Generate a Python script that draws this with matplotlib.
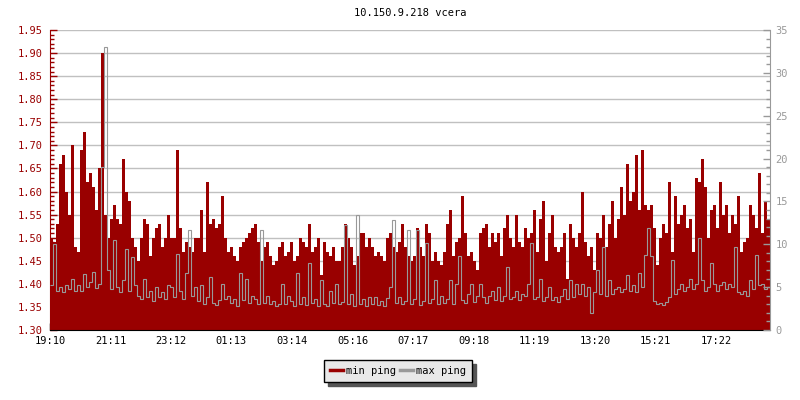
import numpy as np
import matplotlib
matplotlib.use("Agg")
import matplotlib.pyplot as plt
from matplotlib.ticker import MultipleLocator, FixedLocator, FixedFormatter

title = "10.150.9.218 vcera"
series_names = ["min ping", "max ping"]

# one sample every 6 minutes, starting 19:10 (240 samples = 24 h)
step_minutes = 6

min_ping = [
    1.50, 1.49, 1.53, 1.66, 1.68, 1.60, 1.55, 1.70, 1.48, 1.47, 1.69, 1.73, 1.62, 1.64, 1.61, 1.56, 1.65, 1.90, 1.55, 1.50,
    1.54, 1.57, 1.54, 1.53, 1.67, 1.60, 1.58, 1.50, 1.48, 1.45, 1.50, 1.54, 1.53, 1.46, 1.50, 1.52, 1.53, 1.48, 1.50, 1.55,
    1.50, 1.50, 1.69, 1.52, 1.47, 1.49, 1.48, 1.47, 1.50, 1.50, 1.56, 1.47, 1.62, 1.53, 1.54, 1.52, 1.53, 1.59, 1.50, 1.47,
    1.48, 1.46, 1.45, 1.48, 1.49, 1.50, 1.51, 1.52, 1.53, 1.49, 1.45, 1.48, 1.49, 1.46, 1.44, 1.45, 1.48, 1.49, 1.46, 1.47,
    1.49, 1.45, 1.46, 1.50, 1.49, 1.48, 1.53, 1.47, 1.48, 1.50, 1.42, 1.49, 1.47, 1.46, 1.48, 1.45, 1.45, 1.48, 1.53, 1.50,
    1.48, 1.44, 1.46, 1.51, 1.51, 1.48, 1.50, 1.48, 1.46, 1.47, 1.46, 1.45, 1.50, 1.51, 1.48, 1.47, 1.49, 1.53, 1.48, 1.46,
    1.45, 1.46, 1.52, 1.48, 1.46, 1.53, 1.51, 1.45, 1.47, 1.45, 1.44, 1.47, 1.53, 1.56, 1.46, 1.49, 1.50, 1.59, 1.51, 1.46,
    1.47, 1.45, 1.43, 1.51, 1.52, 1.53, 1.48, 1.51, 1.49, 1.51, 1.46, 1.52, 1.55, 1.50, 1.48, 1.55, 1.49, 1.48, 1.52, 1.50,
    1.51, 1.56, 1.47, 1.54, 1.58, 1.45, 1.51, 1.55, 1.48, 1.47, 1.48, 1.51, 1.41, 1.53, 1.50, 1.48, 1.51, 1.60, 1.49, 1.46,
    1.48, 1.43, 1.51, 1.50, 1.55, 1.48, 1.53, 1.58, 1.50, 1.54, 1.61, 1.55, 1.66, 1.58, 1.60, 1.68, 1.56, 1.69, 1.57, 1.56,
    1.57, 1.52, 1.44, 1.50, 1.53, 1.51, 1.62, 1.47, 1.59, 1.53, 1.55, 1.57, 1.52, 1.54, 1.47, 1.63, 1.62, 1.67, 1.61, 1.50,
    1.56, 1.57, 1.52, 1.62, 1.55, 1.57, 1.51, 1.55, 1.53, 1.59, 1.47, 1.49, 1.50, 1.57, 1.55, 1.52, 1.64, 1.51, 1.58, 1.54,
]

max_ping = [
    5.2, 10.0, 4.6, 5.0, 4.4, 5.3, 4.8, 6.0, 4.5, 5.2, 4.6, 6.5, 5.0, 5.6, 6.8, 4.9, 5.4, 19.0, 33.0, 7.0,
    4.8, 10.5, 5.0, 4.4, 5.8, 9.5, 4.6, 8.5, 5.2, 4.0, 3.6, 6.0, 3.8, 4.5, 3.4, 5.0, 3.8, 4.4, 3.6, 5.3,
    5.0, 3.8, 8.9, 4.5, 3.6, 6.6, 11.7, 4.0, 5.0, 3.4, 5.2, 3.0, 3.8, 6.2, 3.2, 2.9, 3.5, 5.4, 3.6, 4.0,
    3.2, 3.6, 2.8, 6.6, 3.5, 6.0, 3.2, 4.0, 3.6, 3.0, 11.7, 3.2, 4.0, 3.0, 3.4, 2.8, 3.0, 5.4, 3.0, 4.0,
    3.4, 2.8, 6.6, 3.0, 3.8, 2.9, 7.8, 3.2, 3.6, 2.8, 5.8, 3.0, 2.8, 4.6, 3.2, 5.4, 3.0, 3.3, 12.3, 3.0,
    4.2, 2.8, 13.4, 3.0, 3.6, 2.8, 3.9, 3.0, 3.8, 2.9, 3.4, 2.8, 3.7, 5.0, 12.8, 3.2, 3.8, 3.0, 3.4, 11.7,
    3.0, 3.6, 11.7, 2.9, 3.4, 10.1, 3.2, 3.6, 5.8, 3.0, 4.0, 3.2, 3.6, 5.8, 3.0, 5.4, 8.6, 3.5, 3.1, 4.2,
    5.4, 3.3, 4.0, 5.4, 3.8, 3.2, 4.0, 4.6, 3.5, 5.0, 3.4, 4.0, 7.4, 3.6, 3.8, 4.6, 3.5, 4.2, 4.0, 5.4,
    10.1, 3.6, 3.9, 6.0, 3.4, 3.8, 5.0, 3.5, 3.9, 3.3, 4.0, 4.8, 3.6, 5.8, 3.8, 5.4, 4.2, 5.4, 4.0, 5.0,
    2.0, 4.4, 7.0, 4.2, 9.7, 4.0, 5.8, 4.2, 4.8, 5.0, 4.4, 4.8, 6.4, 4.6, 5.2, 4.4, 6.6, 5.0, 8.7, 11.9,
    8.6, 3.4, 3.0, 3.2, 2.9, 3.3, 3.8, 8.2, 4.2, 4.8, 5.4, 4.6, 5.0, 6.0, 4.8, 5.4, 10.7, 5.8, 4.6, 5.0,
    7.8, 5.4, 4.6, 5.2, 5.6, 4.8, 5.4, 5.0, 9.7, 4.4, 4.2, 4.6, 4.0, 5.8, 4.8, 8.7, 5.2, 5.4, 4.8, 5.0,
]

tick_minutes = [0, 121, 242, 363, 484, 606, 727, 848, 969, 1090, 1211, 1332]
tick_labels = ["19:10", "21:11", "23:12", "01:13", "03:14", "05:16",
               "07:17", "09:18", "11:19", "13:20", "15:21", "17:22"]

RED = "#990000"
GRAY = "#999999"
GRID = "#c0c0c0"
FONT = "DejaVu Sans Mono"
FS = 7.5

plt.rcParams["font.family"] = [FONT]

fig = plt.figure(figsize=(8, 4), dpi=100)
ax = fig.add_axes([50 / 800, 70 / 400, 720 / 800, 300 / 400])
ax2 = ax.twinx()

edges = np.arange(len(min_ping) + 1) * step_minutes

ax.stairs(min_ping, edges, baseline=1.30, fill=True, color=RED, lw=0)
ax2.stairs(max_ping, edges, baseline=None, color=GRAY, lw=0.8)

ax.set_xlim(0, 1440)
ax.set_ylim(1.30, 1.95)
ax2.set_ylim(0, 35)

ax.yaxis.set_major_locator(MultipleLocator(0.05))
ax.yaxis.set_minor_locator(MultipleLocator(0.01))
ax.yaxis.set_major_formatter(plt.FuncFormatter(lambda v, p: f"{v:.2f}"))
ax2.yaxis.set_major_locator(MultipleLocator(5))
ax2.yaxis.set_minor_locator(MultipleLocator(1))

ax.xaxis.set_major_locator(FixedLocator(tick_minutes))
ax.xaxis.set_major_formatter(FixedFormatter(tick_labels))

ax.set_axisbelow(True)
ax.grid(axis="y", which="major", color=GRID, lw=1)

ax.tick_params(axis="y", which="major", direction="in", length=5, width=1,
               colors=RED, labelsize=FS, pad=5)
ax.tick_params(axis="y", which="minor", direction="in", length=3, width=1, color=RED)
ax.tick_params(axis="x", which="major", direction="in", length=5, width=1,
               colors="black", labelsize=FS, pad=4)
ax2.tick_params(axis="y", which="major", direction="in", length=5, width=1,
                colors=GRAY, labelsize=FS, pad=4)
ax2.tick_params(axis="y", which="minor", direction="in", length=3, width=1, color=GRAY)

for a in (ax, ax2):
    a.spines["top"].set_visible(False)
ax.spines["left"].set_color(RED)
ax.spines["bottom"].set_color("black")
ax.spines["right"].set_visible(False)
ax2.spines["left"].set_visible(False)
ax2.spines["bottom"].set_visible(False)
ax2.spines["right"].set_color(GRAY)

fig.text(410 / 800, 1 - 13 / 400, title, ha="center", va="center",
         fontsize=FS, family=FONT)

handles = [plt.Line2D([], [], color=RED, lw=2.5),
           plt.Line2D([], [], color=GRAY, lw=2.5)]
leg = fig.legend(handles, series_names, loc="center",
                 bbox_to_anchor=(398 / 800, 1 - 371 / 400), ncol=2,
                 fontsize=FS, frameon=True, fancybox=False,
                 shadow={"ox": 3, "oy": -3, "color": "#555555", "alpha": 1},
                 handlelength=1.2, handletextpad=0.3, columnspacing=0.4,
                 borderpad=0.6, borderaxespad=0)
leg.get_frame().set_facecolor("#e8e8e8")
leg.get_frame().set_edgecolor("black")
leg.get_frame().set_linewidth(1)
leg.get_frame().set_alpha(1)

fig.savefig("out.png", dpi=100)
